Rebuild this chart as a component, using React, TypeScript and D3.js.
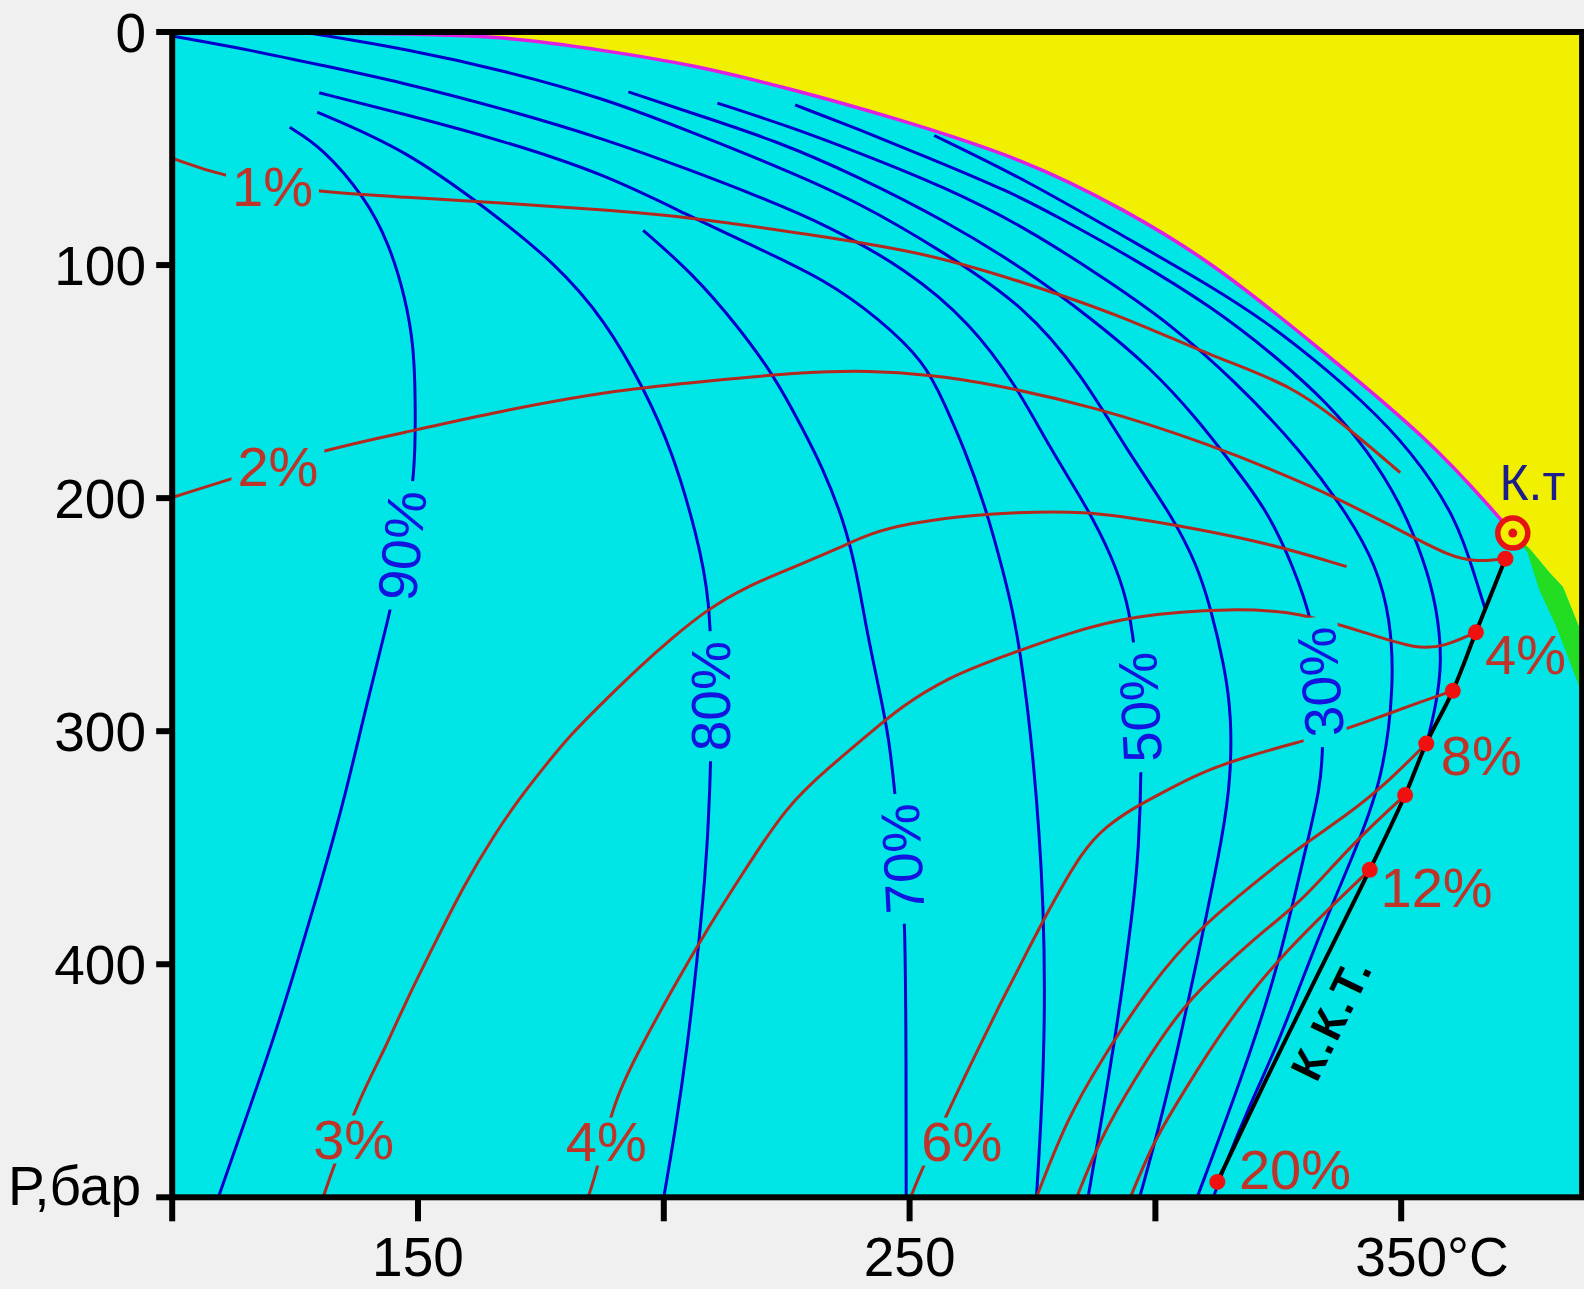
import React from 'react';
import * as d3 from 'd3';

type Pt = [number, number]; // [T °C, P bar]

// ---------- axes ----------
const xTicks = [100, 150, 200, 250, 300, 350];
const xTickLabels = ['', '150', '', '250', '', '350°C'];
const yTicks = [0, 100, 200, 300, 400, 500];
const yTickLabels = ['0', '100', '200', '300', '400', 'Р,бар'];

// ---------- phase boundary ----------
const bubbleCurve: Pt[] = [[100, 0], [148.8, 0.6], [167.7, 1.9], [188.3, 8.0], [205.7, 14.0], [225.9, 24.4], [246.4, 36.5], [273.6, 54.7], [293.9, 76.4], [311.6, 98.9], [332.1, 133.6], [356.0, 175.3], [369.5, 207.3], [372.7, 215.0]];
const yellowEdge: Pt[] = [[376.3, 222.1], [380.2, 232.0], [382.9, 238.1], [386.8, 258.5]];
const greenEdge: Pt[] = [[386.8, 284.0], [381.6, 255.4], [378.1, 239.4], [375.7, 223.4]];
const criticalPoint: Pt = [372.7, 215.0];

// ---------- critical condensation line (К.К.Т.) ----------
const kktLine: Pt[] = [[371.2, 226.0], [365.2, 257.6], [360.5, 282.7], [355.1, 305.3], [350.8, 327.4], [343.6, 359.5], [333.0, 404.6], [322.7, 448.8], [312.6, 493.4]];
const kktDots: Pt[] = [[371.2, 226.0], [365.2, 257.6], [360.5, 282.7], [355.1, 305.3], [350.8, 327.4], [343.6, 359.5], [312.6, 493.4]];

// ---------- blue isolines ----------
const iso90: Pt[] = [[123.9, 40.9], [130.5, 49.5], [139.2, 70.8], [144.1, 90.7], [147.4, 113.7], [149.2, 134.9], [149.5, 161.8], [149.4, 189.1], [147.2, 220.3], [144.1, 251.1], [139.4, 289.7], [135.0, 329.6], [129.9, 367.7], [125.0, 402.4], [120.5, 432.7], [116.3, 458.3], [109.4, 500]];
const iso80: Pt[] = [[129.5, 34.4], [147.4, 50.4], [164.4, 76.4], [177.8, 98.9], [188.1, 123.7], [196.1, 153.6], [201.6, 179.1], [206.8, 216.0], [209.4, 243.7], [209.8, 281.0], [209.4, 329.6], [208.4, 363.4], [206.8, 398.0], [204.7, 437.1], [202.3, 471.8], [200.0, 500]];
const iso70: Pt[] = [[195.8, 85.1], [205.7, 103.3], [214.9, 125.8], [222.6, 147.9], [228.3, 170.5], [232.2, 186.5], [236.6, 209.5], [239.2, 231.2], [241.3, 257.2], [243.7, 281.0], [245.8, 302.7], [247.0, 326.1], [248.3, 354.7], [249.1, 382.5], [249.3, 441.4], [249.3, 500]];
const iso60: Pt[] = [[129.9, 26.1], [147.2, 35.2], [167.7, 46.9], [188.3, 61.2], [205.7, 79.5], [218.9, 92.5], [232.8, 106.3], [243.7, 122.8], [253.2, 141.9], [257.1, 159.6], [261.2, 179.1], [265.3, 203.0], [268.4, 226.4], [270.5, 243.7], [272.5, 265.0], [275.2, 309.6], [277.5, 375.9], [277.5, 441.8], [275.8, 500]];
const iso50: Pt[] = [[100.5, 1.9], [116.3, 7.9], [130.7, 14.4], [146.3, 21.4], [167.7, 33.1], [188.3, 46.1], [205.7, 59.5], [219.1, 70.4], [232.9, 82.5], [249.9, 102.4], [262.3, 124.9], [271.5, 150.9], [278.7, 179.1], [286.1, 203.9], [291.1, 224.7], [294.3, 243.7], [295.8, 263.7], [296.8, 289.7], [297.2, 316.1], [296.6, 350.8], [295.5, 375.9], [292.3, 425.4], [289.0, 467.4], [286.3, 500]];
const iso40: Pt[] = [[128.5, 0.6], [147.2, 7.1], [167.7, 16.6], [188.3, 28.7], [205.7, 43.0], [223.2, 57.8], [239.6, 72.9], [257.1, 94.6], [273.6, 118.0], [284.9, 146.6], [294.1, 179.1], [303.6, 208.2], [308.5, 229.0], [311.2, 246.8], [314.1, 272.4], [315.5, 294.0], [315.3, 320.0], [313.9, 343.0], [309.1, 392.4], [302.3, 458.3], [296.8, 500]];
const iso30: Pt[] = [[192.8, 25.7], [205.7, 34.8], [223.2, 46.9], [239.6, 62.1], [257.1, 80.8], [273.6, 102.0], [286.9, 122.8], [299.3, 144.5], [308.5, 166.1], [315.7, 185.7], [322.7, 205.1], [328.0, 229.0], [332.1, 253.7], [333.6, 278.8], [334.2, 304.0], [333.6, 324.4], [330.5, 350.8], [324.4, 406.7], [315.9, 458.3], [308.5, 500]];
const iso20: Pt[] = [[210.9, 30.5], [225.3, 40.4], [239.6, 51.7], [257.1, 66.5], [273.6, 83.8], [291.0, 107.6], [303.3, 125.8], [315.7, 148.8], [329.5, 179.1], [339.5, 208.2], [344.9, 229.0], [347.8, 251.1], [348.6, 281.0], [346.1, 322.2], [340.4, 352.5], [332.1, 393.7], [325.3, 432.7], [318.6, 463.1], [313.5, 489.9], [311.8, 500]];
const iso10: Pt[] = [[226.7, 31.3], [239.6, 41.7], [253.2, 53.4], [270.5, 68.6], [280.3, 79.5], [295.2, 96.8], [311.6, 118.0], [325.0, 140.1], [335.2, 159.6], [343.0, 179.1], [349.8, 201.7], [354.7, 226.8], [357.2, 246.4], [358.4, 270.0], [357.0, 290.0], [355.2, 305.0]];
const iso05: Pt[] = [[255.0, 44.4], [273.6, 63.4], [293.9, 88.1], [311.6, 109.4], [322.9, 125.0], [332.1, 140.1], [342.4, 158.8], [351.8, 179.1], [361.3, 208.2], [365.4, 236.4], [367.1, 247.6]];

// ---------- red isolines ----------
const red01: Pt[] = [[100.3, 54.3], [110.2, 62.1], [130.1, 69.0], [147.2, 70.8], [167.7, 73.4], [188.3, 76.4], [205.7, 79.5], [229.4, 86.8], [253.2, 94.6], [273.6, 107.6], [293.9, 122.4], [311.6, 139.3], [328.0, 151.5], [340.3, 171.8], [349.8, 189.1]];
const red02: Pt[] = [[100.3, 199.5], [111.4, 192.2], [130.9, 179.1], [149.4, 170.9], [167.7, 162.2], [190.3, 153.6], [208.8, 149.7], [229.4, 145.8], [241.9, 145.3], [254.0, 147.1], [265.7, 150.5], [287.9, 160.9], [310.1, 176.1], [332.5, 195.2], [349.8, 213.8], [359.9, 225.1], [365.4, 227.3], [371.2, 226.0]];
const red03: Pt[] = [[130.7, 500], [132.8, 486.9], [138.1, 457.4], [143.1, 437.1], [147.2, 417.5], [153.3, 391.5], [159.5, 365.5], [165.7, 343.9], [170.4, 329.5], [176.0, 314.4], [181.3, 300.9], [188.3, 286.2], [195.1, 272.3], [201.6, 260.2], [208.6, 248.1], [217.0, 237.7], [226.7, 229.4], [235.5, 221.6], [241.9, 215.1], [249.9, 210.8], [260.2, 207.8], [268.4, 206.5], [285.2, 205.1], [302.3, 210.8], [322.6, 219.0], [338.9, 229.4]];
const red04: Pt[] = [[184.6, 500], [186.2, 490.0], [189.9, 457.9], [195.5, 434.9], [201.6, 411.1], [208.8, 385.0], [216.0, 361.2], [224.9, 332.2], [233.5, 315.7], [241.9, 300.9], [248.1, 289.7], [258.1, 276.7], [268.4, 268.4], [282.0, 258.0], [295.5, 250.2], [315.7, 247.2], [329.5, 248.9], [343.0, 258.0], [353.3, 264.9], [358.8, 263.7], [365.2, 257.6]];
const red06: Pt[] = [[250.2, 500], [252.2, 489.5], [258.1, 461.8], [263.3, 439.2], [268.4, 417.1], [273.6, 395.9], [278.5, 375.9], [285.3, 350.8], [290.0, 340.8], [295.5, 333.0], [301.3, 326.5], [309.1, 317.8], [317.7, 311.4], [329.5, 304.4], [336.2, 300.9], [344.4, 294.9], [353.3, 287.9], [360.5, 282.7]];
const red08: Pt[] = [[275.8, 500], [282.0, 466.5], [288.8, 441.8], [298.9, 408.9], [309.1, 384.2], [319.2, 366.9], [328.0, 351.7], [339.5, 335.2], [347.3, 321.8], [355.1, 305.3]];
const red10: Pt[] = [[284.0, 500], [288.8, 474.8], [295.5, 450.1], [305.6, 417.1], [315.9, 397.2], [321.9, 385.9], [329.5, 373.3], [336.3, 357.3], [343.4, 341.7], [350.8, 327.4]];
const red12: Pt[] = [[294.9, 500], [299.2, 478.3], [303.3, 463.1], [312.6, 431.4], [319.8, 411.1], [327.0, 393.7], [335.2, 376.4], [343.6, 359.5]];

const blueLines = [iso90, iso80, iso70, iso60, iso50, iso40, iso30, iso20, iso10, iso05];
const redLines = [red01, red02, red03, red04, red06, red08, red10, red12];

// ---------- labels ----------
type Lab = { text: string; T: number; P: number; angle: number; bg: boolean };
const redLabels: Lab[] = [
  { text: '1%', T: 120.4, P: 66.5, angle: 0, bg: true },
  { text: '2%', T: 121.5, P: 186.5, angle: 0, bg: true },
  { text: '3%', T: 136.9, P: 475.2, angle: 0, bg: true },
  { text: '4%', T: 188.3, P: 476.1, angle: 0, bg: true },
  { text: '6%', T: 260.6, P: 476.1, angle: 0, bg: true },
  { text: '4%', T: 375.3, P: 267.1, angle: 0, bg: false },
  { text: '8%', T: 366.3, P: 310.5, angle: 0, bg: false },
  { text: '12%', T: 357.2, P: 366.9, angle: 0, bg: false },
  { text: '20%', T: 328.4, P: 488.2, angle: 0, bg: false },
];
const blueLabels: Lab[] = [
  { text: '90%', T: 146.8, P: 220.3, angle: -84, bg: true },
  { text: '80%', T: 209.7, P: 285.0, angle: -90, bg: true },
  { text: '70%', T: 248.6, P: 354.7, angle: -93, bg: true },
  { text: '50%', T: 296.9, P: 289.7, angle: -93, bg: true },
  { text: '30%', T: 333.6, P: 278.9, angle: -95, bg: true },
];

const CYAN = '#00E6E6';
const YELLOW = '#F0F000';
const FONT = "Arial, 'Liberation Sans', sans-serif";

function textWidth(t: string, fs: number) {
  let w = 0;
  for (const c of t) w += c === '%' ? 0.889 : 0.556;
  return w * fs;
}

export default function App() {
  const W = 1584, H = 1289;
  const x = d3.scaleLinear().domain([100, 386.8]).range([172.2, 1582.1]);
  const y = d3.scaleLinear().domain([0, 500]).range([32, 1197.3]);
  const smooth = d3.line<Pt>().x(d => x(d[0])).y(d => y(d[1])).curve(d3.curveBasis);
  const through = d3.line<Pt>().x(d => x(d[0])).y(d => y(d[1])).curve(d3.curveCatmullRom.alpha(0.5));
  const straight = d3.line<Pt>().x(d => x(d[0])).y(d => y(d[1]));
  const left = x(100), right = x(386.8), top = y(0), bottom = y(500);

  const yellowPath = `${smooth(bubbleCurve)}L${yellowEdge.map(p => `${x(p[0])},${y(p[1])}`).join('L')}L${x(390)},${y(-5)}L${x(98)},${y(-5)}Z`;
  const greenPath = straight([criticalPoint, ...yellowEdge, ...greenEdge]) + 'Z';

  const kx = x(335.8), ky = y(423.2);
  const axFs = 55;

  return (
    <svg width={W} height={H} style={{ position: 'absolute', left: 0, top: 0 }} fontFamily={FONT}>
      <defs>
        <clipPath id="plot"><rect x={left} y={top} width={right - left} height={bottom - top} /></clipPath>
      </defs>
      <rect x={0} y={0} width={W} height={H} fill="#F0F0F0" />
      <g clipPath="url(#plot)">
        <rect x={left} y={top} width={right - left} height={bottom - top} fill={CYAN} />
        <path d={yellowPath} fill={YELLOW} />
        <path d={greenPath} fill="#22DD22" />
        <path d={smooth(bubbleCurve) || ''} fill="none" stroke="#E020E0" strokeWidth={3.5} />
        {blueLines.map((l, i) => (
          <path key={'b' + i} d={smooth(l) || ''} fill="none" stroke="#0000CC" strokeWidth={3} />
        ))}
        {redLines.map((l, i) => (
          <path key={'r' + i} d={smooth(l) || ''} fill="none" stroke="#B5281E" strokeWidth={3} />
        ))}
        <path d={through(kktLine) || ''} fill="none" stroke="#000" strokeWidth={4} />
        {kktDots.map((p, i) => (
          <circle key={'d' + i} cx={x(p[0])} cy={y(p[1])} r={8} fill="#F01010" />
        ))}
        {/* critical point */}
        <circle cx={x(criticalPoint[0])} cy={y(criticalPoint[1])} r={15} fill={YELLOW} stroke="#E51414" strokeWidth={5.5} />
        <circle cx={x(criticalPoint[0])} cy={y(criticalPoint[1])} r={4.5} fill="#E51414" />

        {redLabels.map((l, i) => {
          const fs = 56;
          const w = textWidth(l.text, fs) + 12;
          return (
            <g key={'rl' + i} transform={`translate(${x(l.T)},${y(l.P)}) rotate(${l.angle})`}>
              {l.bg && <rect x={-w / 2} y={-24} width={w} height={48} fill={CYAN} />}
              <text x={0} y={0} textAnchor="middle" dominantBaseline="central" fontSize={fs} fill="#BF3328">{l.text}</text>
            </g>
          );
        })}
        {blueLabels.map((l, i) => {
          const fs = 55;
          const w = textWidth(l.text, fs) + 20;
          return (
            <g key={'bl' + i} transform={`translate(${x(l.T)},${y(l.P)}) rotate(${l.angle})`}>
              {l.bg && <rect x={-w / 2} y={-22} width={w} height={44} fill={CYAN} />}
              <text x={0} y={0} textAnchor="middle" dominantBaseline="central" fontSize={fs} fill="#1414E0">{l.text}</text>
            </g>
          );
        })}
        <text x={x(376.7)} y={y(193.4)} textAnchor="middle" dominantBaseline="central" fontSize={50} fill="#1C1C8A">К.т</text>
        <g transform={`translate(${kx},${ky}) rotate(-64)`}>
          <text x={0} y={0} textAnchor="middle" dominantBaseline="central" fontSize={44} fontWeight="bold" letterSpacing={3} fill="#000">К.К.Т.</text>
        </g>
      </g>

      {/* frame */}
      <rect x={left} y={top} width={right - left} height={bottom - top} fill="none" stroke="#000" strokeWidth={6} />
      {xTicks.map((t, i) => (
        <g key={'xt' + i}>
          <line x1={x(t)} x2={x(t)} y1={bottom} y2={bottom + 24} stroke="#000" strokeWidth={6} />
          {xTickLabels[i] && (
            <text x={x(t) - (xTickLabels[i].length > 3 ? textWidth('350', axFs) / 2 : 0)}
              y={1276} textAnchor={xTickLabels[i].length > 3 ? 'start' : 'middle'} fontSize={axFs} fill="#000">
              {xTickLabels[i]}
            </text>
          )}
        </g>
      ))}
      {yTicks.map((t, i) => (
        <g key={'yt' + i}>
          <line x1={left - 16} x2={left} y1={y(t)} y2={y(t)} stroke="#000" strokeWidth={6} />
          <text x={i === 5 ? 141 : 146} y={i === 5 ? 1205 : y(t) + 20} textAnchor="end" fontSize={axFs} fill="#000">
            {yTickLabels[i]}
          </text>
        </g>
      ))}
    </svg>
  );
}
